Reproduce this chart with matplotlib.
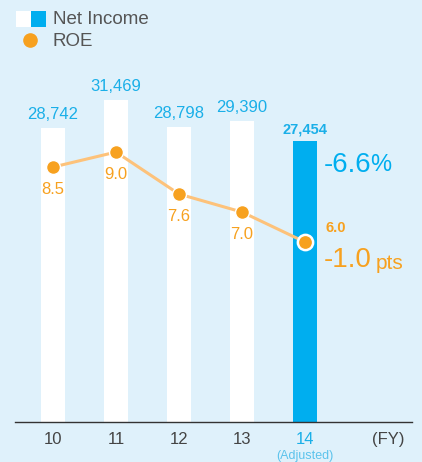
import matplotlib.pyplot as plt
from matplotlib.patches import Rectangle

# data
years = ['10', '11', '12', '13', '14']
net_income = [28742, 31469, 28798, 29390, 27454]
roe = [8.5, 9.0, 7.6, 7.0, 6.0]
ni_labels = ['28,742', '31,469', '28,798', '29,390', '27,454']
roe_labels = ['8.5', '9.0', '7.6', '7.0', '6.0']

bg = '#DFF1FB'
blue = '#00AEEF'
label_blue = '#1AAFE8'
orange = '#F7A11F'
line_orange = '#FDC27A'
gray = '#444444'

plt.rcParams['font.family'] = ['Liberation Sans', 'DejaVu Sans']

fig = plt.figure(figsize=(4.22, 4.62), dpi=100, facecolor=bg)
ax = fig.add_axes([15 / 422, 40 / 462, 397 / 422, 422 / 462])
ax.set_facecolor(bg)
x = list(range(len(years)))

# bars (white for past years, blue for the adjusted year)
colors = ['white'] * 4 + [blue]
ax.bar(x, net_income, width=0.38, color=colors, zorder=2)
ax.set_xlim(-0.603, 5.698)
ax.set_ylim(0, 41250)

for i, (v, s) in enumerate(zip(net_income, ni_labels)):
    if i < 4:
        ax.text(i, v + 600, s, ha='center', va='bottom', fontsize=12, color=label_blue, zorder=5)
    else:
        ax.text(i, v + 450, s, ha='center', va='bottom', fontsize=10.5, fontweight='bold',
                color=label_blue, zorder=5)

# ROE line on twin axis
ax2 = ax.twinx()
ax2.set_ylim(0, 14.07)
ax2.plot(x, roe, color=line_orange, lw=2.2, zorder=3)
ax2.plot(x, roe, 'o', color=orange, ms=10, mec='white', mew=1.0, zorder=4)
ax2.plot(x[-1], roe[-1], 'o', color=orange, ms=11, mec='white', mew=1.8, zorder=4)
for i in range(4):
    ax2.text(i, roe[i] - 0.5, roe_labels[i], ha='center', va='top', fontsize=12, color=orange)
ax2.text(4.48, roe[4] + 0.48, roe_labels[4], ha='center', va='center', fontsize=10.5,
         fontweight='bold', color=orange)

# change annotations, small unit placed right after the number
fig.canvas.draw()
r = fig.canvas.get_renderer()
t1 = ax2.text(4.3, 8.57, '-6.6', ha='left', va='center', fontsize=20, color=blue)
t2 = ax2.text(4.3, 5.4, '-1.0', ha='left', va='center', fontsize=20, color=orange)
e1 = t1.get_window_extent(r)
e2 = t2.get_window_extent(r)
inv = ax2.transData.inverted()
ax2.text(inv.transform((e1.x1 - 1, 0))[0], 8.57, '%', ha='left', va='center', fontsize=17, color=blue)
ax2.text(inv.transform((e2.x1 + 4, 0))[0], 5.3, 'pts', ha='left', va='center', fontsize=15, color=orange)

for a in (ax, ax2):
    for sp in a.spines.values():
        sp.set_visible(False)
    a.set_yticks([])
ax.spines['bottom'].set_visible(True)
ax.spines['bottom'].set_color('#333333')
ax.spines['bottom'].set_linewidth(1.0)

ax.set_xticks(x + [5.32])
ax.set_xticklabels(years + ['(FY)'], fontsize=12, color=gray)
ax.tick_params(axis='x', length=0, pad=7)
ax.get_xticklabels()[4].set_color(label_blue)
ax.text(4, -0.066, '(Adjusted)', transform=ax.get_xaxis_transform(), ha='center', va='top',
        fontsize=9, color='#5CC3EC')

# legend drawn by hand
fig.patches.append(Rectangle((16 / 422, 1 - 27 / 462), 15 / 422, 16 / 462, facecolor='white',
                             transform=fig.transFigure, figure=fig))
fig.patches.append(Rectangle((31 / 422, 1 - 27 / 462), 15 / 422, 16 / 462, facecolor=blue,
                             transform=fig.transFigure, figure=fig))
fig.text(53 / 422, 1 - 19 / 462, 'Net Income', fontsize=13.5, color='#555555', va='center')
fig.lines.append(plt.Line2D([30 / 422], [1 - 40 / 462], marker='o', ms=9.5, color=orange,
                            transform=fig.transFigure, figure=fig))
fig.text(53 / 422, 1 - 41 / 462, 'ROE', fontsize=13.5, color='#555555', va='center')

fig.savefig('out.png', dpi=100, facecolor=bg)
